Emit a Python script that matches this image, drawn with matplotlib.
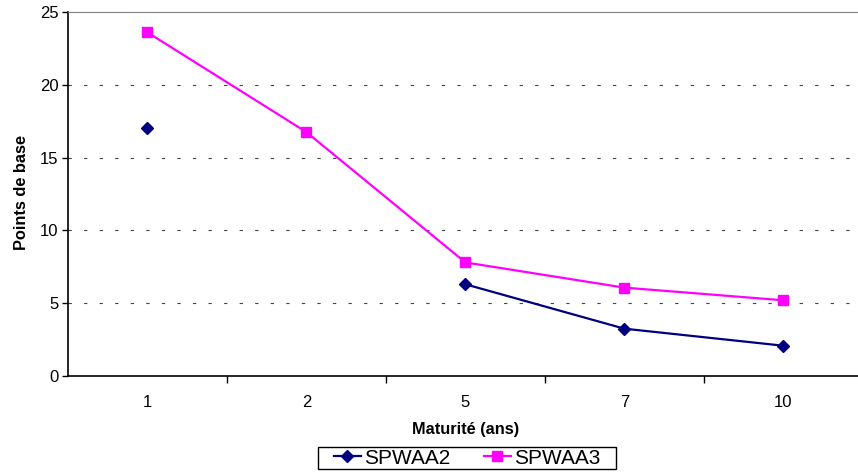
import numpy as np
import matplotlib.pyplot as plt
from matplotlib.patches import Rectangle

plt.rcParams["font.family"] = ["Liberation Sans", "DejaVu Sans"]

maturities = ["1", "2", "5", "7", "10"]
spwaa2 = [17.0, np.nan, 6.3, 3.25, 2.08]
spwaa3 = [23.6, 16.75, 7.8, 6.07, 5.2]

fig = plt.figure(figsize=(8.58, 4.73), dpi=100)
ax = fig.add_axes([68 / 858, 97 / 473, 790 / 858, 364 / 473])

x = np.arange(len(maturities))
ax.plot(x, spwaa2, color="#000080", lw=1.6, marker="D", markersize=6,
        label="SPWAA2")
ax.plot(x, spwaa3, color="#FF00FF", lw=1.6, marker="s", markersize=7.5,
        label="SPWAA3")

ax.set_xlim(-0.5, 4.47)
ax.set_ylim(0, 25)
ax.set_yticks(range(0, 26, 5))
ax.set_xticks(x)
ax.set_xticklabels(maturities)
ax.set_xticks(np.arange(0.5, 4.5, 1), minor=True)
ax.tick_params(axis="x", which="major", length=0, pad=14, labelsize=12)
ax.tick_params(axis="x", which="minor", length=5, width=1, direction="out")
ax.tick_params(axis="y", length=4, width=1, direction="out", labelsize=12,
               pad=3)

for y in range(5, 25, 5):
    ax.axhline(y, color="#444444", lw=0.8, dashes=(3, 11), zorder=0)

ax.spines["right"].set_visible(False)
ax.spines["top"].set_color("#808080")
ax.spines["left"].set_linewidth(1.2)
ax.spines["bottom"].set_linewidth(1.2)

ax.set_ylabel("Points de base", fontsize=11.8, fontweight="bold")
ax.yaxis.set_label_coords((22 - 68) / 790, (376 - 192) / 364)
ax.yaxis.label.set_verticalalignment("center")
ax.set_xlabel("Maturité (ans)", fontsize=11.8, fontweight="bold")
ax.xaxis.set_label_coords((466 - 68) / 790, (376 - 429) / 364)
ax.xaxis.label.set_verticalalignment("center")

leg = fig.legend(loc="center", bbox_to_anchor=(467 / 858, 1 - 458 / 473),
                 ncol=2, fontsize=15, frameon=False, borderpad=0.05,
                 columnspacing=1.6, handlelength=1.3, handletextpad=0.15,
                 borderaxespad=0)

# wide box around the legend, like the Excel original
fig.canvas.draw()
bb = leg.get_window_extent().transformed(fig.transFigure.inverted())
padx = 15 / 858
fig.add_artist(Rectangle((bb.x0 - padx, bb.y0), bb.width + 2 * padx,
                         bb.height, transform=fig.transFigure,
                         fill=False, edgecolor="black", lw=1))

fig.savefig("out.png", dpi=100)
